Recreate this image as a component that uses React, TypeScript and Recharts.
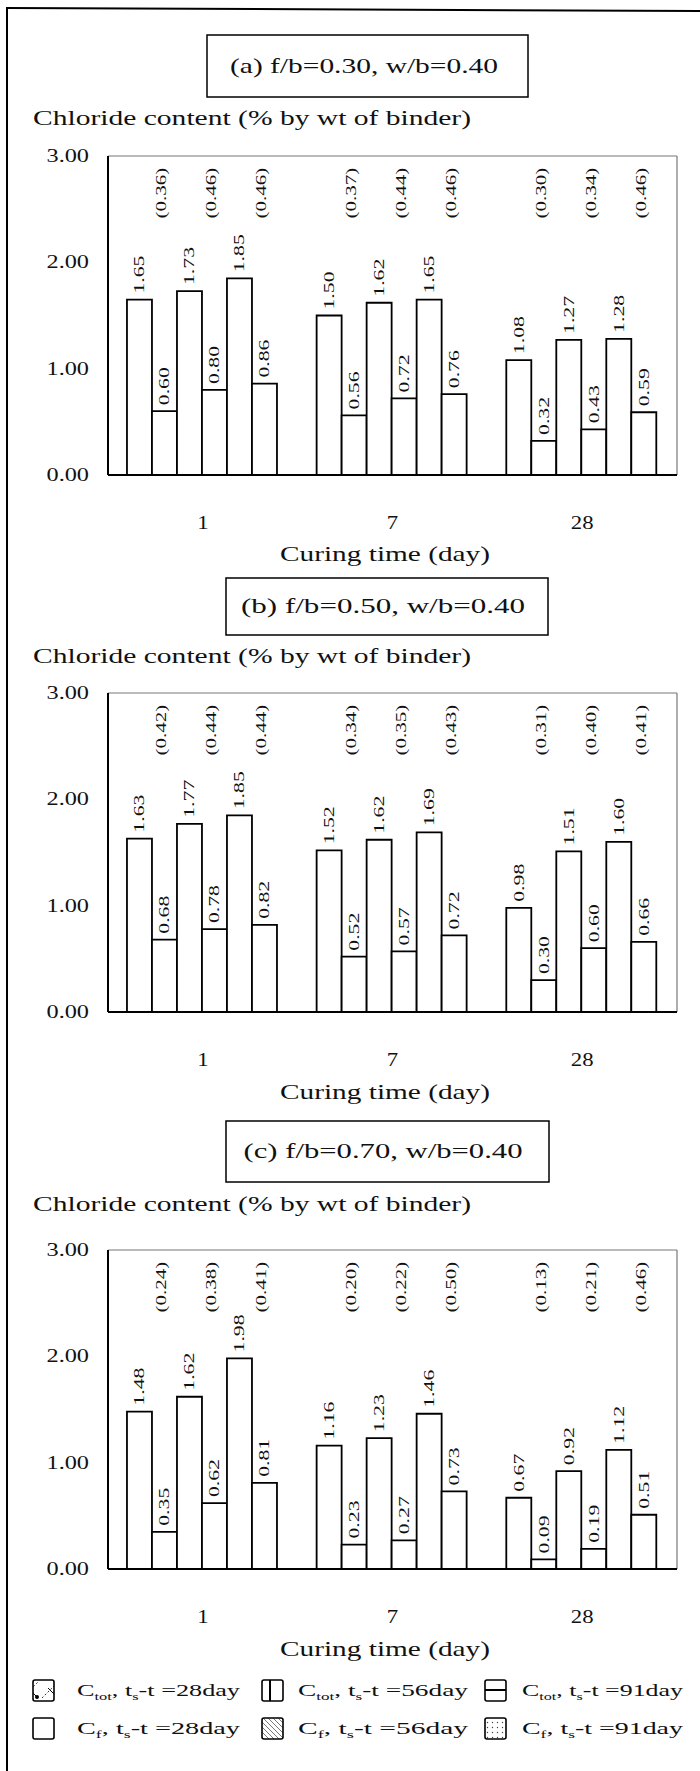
import React from 'react';
import { BarChart, Bar, XAxis, YAxis, CartesianGrid, LabelList } from 'recharts';

// ---------- data ----------
const CATEGORIES = ['1', '7', '28'];
const Y_TICKS = [0, 1, 2, 3];

// Panel (a) f/b=0.30
const A_TOT_28 = [1.65, 1.5, 1.08];
const A_FR_28 = [0.6, 0.56, 0.32];
const A_TOT_56 = [1.73, 1.62, 1.27];
const A_FR_56 = [0.8, 0.72, 0.43];
const A_TOT_91 = [1.85, 1.65, 1.28];
const A_FR_91 = [0.86, 0.76, 0.59];
const A_RATIO_28 = ['(0.36)', '(0.37)', '(0.30)'];
const A_RATIO_56 = ['(0.46)', '(0.44)', '(0.34)'];
const A_RATIO_91 = ['(0.46)', '(0.46)', '(0.46)'];

// Panel (b) f/b=0.50
const B_TOT_28 = [1.63, 1.52, 0.98];
const B_FR_28 = [0.68, 0.52, 0.3];
const B_TOT_56 = [1.77, 1.62, 1.51];
const B_FR_56 = [0.78, 0.57, 0.6];
const B_TOT_91 = [1.85, 1.69, 1.6];
const B_FR_91 = [0.82, 0.72, 0.66];
const B_RATIO_28 = ['(0.42)', '(0.34)', '(0.31)'];
const B_RATIO_56 = ['(0.44)', '(0.35)', '(0.40)'];
const B_RATIO_91 = ['(0.44)', '(0.43)', '(0.41)'];

// Panel (c) f/b=0.70
const C_TOT_28 = [1.48, 1.16, 0.67];
const C_FR_28 = [0.35, 0.23, 0.09];
const C_TOT_56 = [1.62, 1.23, 0.92];
const C_FR_56 = [0.62, 0.27, 0.19];
const C_TOT_91 = [1.98, 1.46, 1.12];
const C_FR_91 = [0.81, 0.73, 0.51];
const C_RATIO_28 = ['(0.24)', '(0.20)', '(0.13)'];
const C_RATIO_56 = ['(0.38)', '(0.22)', '(0.21)'];
const C_RATIO_91 = ['(0.41)', '(0.50)', '(0.46)'];

const PANEL_TITLES = ['(a) f/b=0.30, w/b=0.40', '(b) f/b=0.50, w/b=0.40', '(c) f/b=0.70, w/b=0.40'];
const Y_LABEL = 'Chloride content (% by wt of binder)';
const X_LABEL = 'Curing time (day)';
const SERIES_KEYS = ['tot28', 'fr28', 'tot56', 'fr56', 'tot91', 'fr91'];
const FREE_KEYS = ['fr28', 'fr56', 'fr91'];
const LEGEND_DAYS = ['28day', '56day', '91day'];
const LEGEND_SUBS = ['tot', 'f'];
const RATIO_LEVEL = 2.65; // data units where the ratio labels sit

const SERIF = '"Liberation Serif", "Times New Roman", serif';
const INK = '#111';

const makeRows = (t28: number[], f28: number[], t56: number[], f56: number[], t91: number[], f91: number[]) =>
  CATEGORIES.map((day, i) => ({
    day,
    tot28: t28[i],
    fr28: f28[i],
    tot56: t56[i],
    fr56: f56[i],
    tot91: t91[i],
    fr91: f91[i],
  }));

const PANELS = [
  {
    top: 140,
    rows: makeRows(A_TOT_28, A_FR_28, A_TOT_56, A_FR_56, A_TOT_91, A_FR_91),
    ratios: { fr28: A_RATIO_28, fr56: A_RATIO_56, fr91: A_RATIO_91 } as Record<string, string[]>,
  },
  {
    top: 677,
    rows: makeRows(B_TOT_28, B_FR_28, B_TOT_56, B_FR_56, B_TOT_91, B_FR_91),
    ratios: { fr28: B_RATIO_28, fr56: B_RATIO_56, fr91: B_RATIO_91 } as Record<string, string[]>,
  },
  {
    top: 1234,
    rows: makeRows(C_TOT_28, C_FR_28, C_TOT_56, C_FR_56, C_TOT_91, C_FR_91),
    ratios: { fr28: C_RATIO_28, fr56: C_RATIO_56, fr91: C_RATIO_91 } as Record<string, string[]>,
  },
];

// ---------- ticks and labels ----------
const YTick = (props: any) => {
  const { x, y, payload } = props;
  return (
    <text
      transform={`translate(${x - 11},${y + 6}) scale(1.35,1)`}
      textAnchor="end"
      fontFamily={SERIF}
      fontSize={18}
      fill={INK}
    >
      {Number(payload.value).toFixed(2)}
    </text>
  );
};

const XTick = (props: any) => {
  const { x, y, payload } = props;
  return (
    <text
      transform={`translate(${x},${y + 46}) scale(1.2,1)`}
      textAnchor="middle"
      fontFamily={SERIF}
      fontSize={19}
      fill={INK}
    >
      {payload.value}
    </text>
  );
};

const valueLabel = (props: any) => {
  const { x, y, width, value } = props;
  if (value == null) return null;
  const cx = Number(x) + Number(width) / 2 + 5;
  const ty = Number(y) - 6;
  return (
    <text
      transform={`translate(${cx},${ty}) rotate(-90) scale(1.45,1)`}
      textAnchor="start"
      fontFamily={SERIF}
      fontSize={15}
      fill={INK}
    >
      {Number(value).toFixed(2)}
    </text>
  );
};

const makeRatioLabel = (key: string, ratios: string[], rows: any[]) => (props: any) => {
  const { x, y, width, height, value } = props;
  let index = props.index;
  if (index == null) index = rows.findIndex((r) => r[key] === value);
  const text = ratios[index];
  if (!text || !value) return null;
  const base = Number(y) + Number(height);
  const ppu = Number(height) / Number(value);
  const ty = base - RATIO_LEVEL * ppu;
  const cx = Number(x) + Number(width) / 2 + 2;
  return (
    <text
      transform={`translate(${cx},${ty}) rotate(-90) scale(1.4,1)`}
      textAnchor="middle"
      fontFamily={SERIF}
      fontSize={15}
      fill={INK}
    >
      {text}
    </text>
  );
};

const hGen = (p: any) => (p && p.offset ? [p.offset.top, p.offset.top + p.offset.height] : []);
const vGen = (p: any) => (p && p.offset ? [p.offset.left, p.offset.left + p.offset.width] : []);

function Panel({ top, rows, ratios }: { top: number; rows: any[]; ratios: Record<string, string[]> }) {
  return (
    <div style={{ position: 'absolute', left: 0, top, width: 700, height: 400 }}>
      <BarChart
        width={700}
        height={400}
        data={rows}
        margin={{ top: 16, right: 23, bottom: 5, left: 28 }}
        barCategoryGap="10%"
        barGap={0}
      >
        <CartesianGrid
          horizontalCoordinatesGenerator={hGen}
          verticalCoordinatesGenerator={vGen}
          stroke="#777"
          strokeWidth={1.2}
        />
        <XAxis
          dataKey="day"
          height={60}
          interval={0}
          tickLine={false}
          axisLine={{ stroke: '#000', strokeWidth: 2 }}
          tick={<XTick />}
        />
        <YAxis
          width={80}
          domain={[0, 3]}
          ticks={Y_TICKS}
          interval={0}
          tickLine={false}
          axisLine={{ stroke: '#000', strokeWidth: 2 }}
          tick={<YTick />}
        />
        {SERIES_KEYS.map((k) => (
          <Bar key={k} dataKey={k} fill="#fff" stroke="#000" strokeWidth={1.8} isAnimationActive={false}>
            <LabelList dataKey={k} content={valueLabel} />
            {FREE_KEYS.includes(k) ? (
              <LabelList dataKey={k} content={makeRatioLabel(k, ratios[k], rows)} />
            ) : null}
          </Bar>
        ))}
      </BarChart>
    </div>
  );
}

// ---------- static text helpers ----------
const SText = ({ x, y, w, size, anchor = 'start', children }: any) => (
  <text
    x={x}
    y={y}
    textLength={w}
    lengthAdjust="spacingAndGlyphs"
    textAnchor={anchor}
    fontFamily={SERIF}
    fontSize={size}
    fill={INK}
  >
    {children}
  </text>
);

const TITLE_BOXES = [
  { x: 207, y: 35, w: 321, h: 62, tx: 364, ty: 73, tw: 268 },
  { x: 226, y: 578, w: 322, h: 57, tx: 383, ty: 613, tw: 284 },
  { x: 226, y: 1121, w: 323, h: 61, tx: 383, ty: 1158, tw: 279 },
];
const Y_LABEL_BASE = [125, 663, 1211];
const X_LABEL_BASE = [561, 1099, 1656];

const LEGEND_ROWS_Y = [1690, 1728];
const LEGEND_BOX_X = [33, 262, 485];
const LEGEND_TEXT_X = [77, 298, 522];
const LEGEND_TEXT_W = [163, 170, 161];
const LEGEND_FILLS = [
  ['url(#pDiag)', 'url(#pVert)', 'url(#pHorz)'],
  ['#fff', 'url(#pBack)', 'url(#pDots)'],
];

function Overlay() {
  return (
    <svg width={700} height={1771} style={{ position: 'absolute', left: 0, top: 0 }}>
      <defs>
        <pattern id="pDiag" width="20" height="20" patternUnits="userSpaceOnUse">
          <rect width="20" height="20" fill="#fff" />
          <path d="M2,18 L18,2" stroke="#000" strokeWidth="0.8" strokeDasharray="2 2" />
          <path d="M8,8 L18,18" stroke="#000" strokeWidth="1" />
          <circle cx="17" cy="17" r="2" fill="#000" />
        </pattern>
        <pattern id="pVert" width="20" height="20" patternUnits="userSpaceOnUse">
          <rect width="20" height="20" fill="#fff" />
          <path d="M10,0 L10,20" stroke="#000" strokeWidth="2" />
        </pattern>
        <pattern id="pHorz" width="20" height="20" patternUnits="userSpaceOnUse">
          <rect width="20" height="20" fill="#fff" />
          <path d="M0,10 L20,10" stroke="#000" strokeWidth="2" />
        </pattern>
        <pattern id="pBack" width="5" height="5" patternUnits="userSpaceOnUse">
          <rect width="5" height="5" fill="#fff" />
          <path d="M0,0 L5,5" stroke="#555" strokeWidth="0.8" />
        </pattern>
        <pattern id="pDots" width="5" height="5" patternUnits="userSpaceOnUse">
          <rect width="5" height="5" fill="#fff" />
          <circle cx="2.5" cy="2.5" r="0.7" fill="#444" />
        </pattern>
      </defs>
      <rect x={0} y={0} width={700} height={1771} fill="#fff" />
      {/* scan frame */}
      <line x1={7} y1={7} x2={7} y2={1771} stroke="#000" strokeWidth={2} />
      <line x1={7} y1={8} x2={700} y2={11} stroke="#000" strokeWidth={2} />
      {TITLE_BOXES.map((b, i) => (
        <g key={i}>
          <rect x={b.x} y={b.y} width={b.w} height={b.h} fill="#fff" stroke="#000" strokeWidth={1.5} />
          <SText x={b.tx} y={b.ty} w={b.tw} size={21} anchor="middle">
            {PANEL_TITLES[i]}
          </SText>
          <SText x={33} y={Y_LABEL_BASE[i]} w={438} size={21}>
            {Y_LABEL}
          </SText>
          <SText x={385} y={X_LABEL_BASE[i]} w={210} size={21} anchor="middle">
            {X_LABEL}
          </SText>
        </g>
      ))}
      {LEGEND_ROWS_Y.map((ry, r) =>
        LEGEND_DAYS.map((d, c) => (
          <g key={`${r}-${c}`}>
            <rect
              x={LEGEND_BOX_X[c]}
              y={ry - 10}
              width={21}
              height={21}
              rx={2}
              fill={LEGEND_FILLS[r][c]}
              stroke="#000"
              strokeWidth={1.6}
            />
            <text
              x={LEGEND_TEXT_X[c]}
              y={ry + 6}
              textLength={LEGEND_TEXT_W[c]}
              lengthAdjust="spacingAndGlyphs"
              fontFamily={SERIF}
              fontSize={16}
              fill={INK}
            >
              C<tspan fontSize={10} dy={4}>{LEGEND_SUBS[r]}</tspan>
              <tspan dy={-4}>, t</tspan>
              <tspan fontSize={10} dy={4}>s</tspan>
              <tspan dy={-4}>{`-t =${d}`}</tspan>
            </text>
          </g>
        ))
      )}
    </svg>
  );
}

export default function App() {
  return (
    <div style={{ position: 'absolute', left: 0, top: 0, width: 700, height: 1771, background: '#fff' }}>
      <Overlay />
      {PANELS.map((p, i) => (
        <Panel key={i} top={p.top} rows={p.rows} ratios={p.ratios} />
      ))}
    </div>
  );
}
